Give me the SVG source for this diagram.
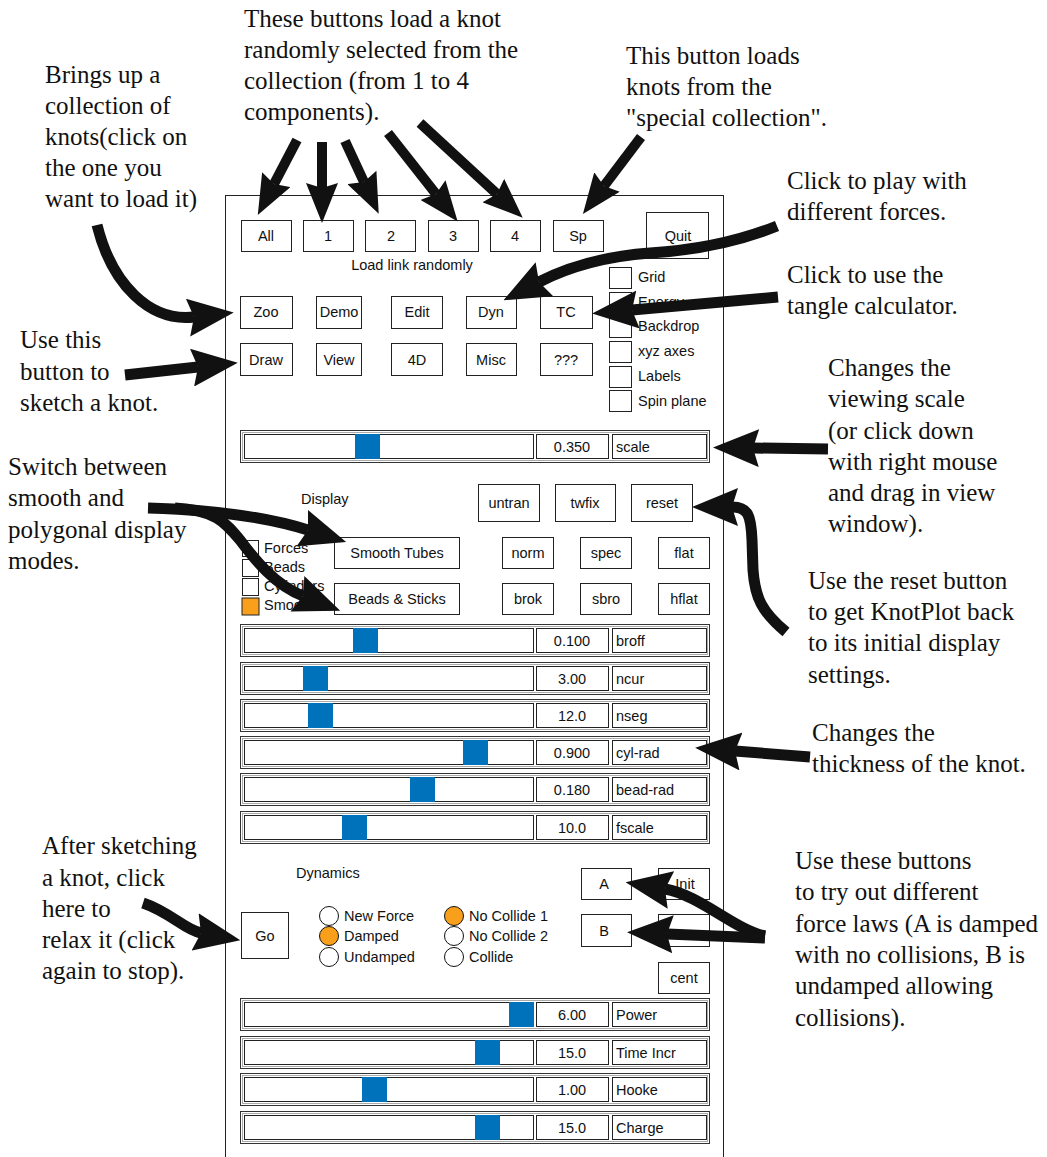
<svg xmlns="http://www.w3.org/2000/svg" width="1047" height="1157" viewBox="0 0 1047 1157">
<style>
.ann{font-family:"Liberation Serif","Times New Roman",serif;font-size:25px;fill:#111}
.ui{font-family:"Liberation Sans",Arial,sans-serif;font-size:14.5px;fill:#111}
.c{text-anchor:middle}
.btn{fill:#fff;stroke:#222;stroke-width:1}
.box{fill:#fff;stroke:#222;stroke-width:1}
.outer{fill:#fff;stroke:#333;stroke-width:1}
.inner{fill:none;stroke:#aaa;stroke-width:1}
.thumb{fill:#0072bc}
.on{fill:#f8a01c}
.arrow{fill:none;stroke:#111;stroke-width:11;marker-end:url(#ah)}
.arrows{fill:none;stroke:#111;stroke-width:10;marker-end:url(#ahs)}
</style>
<defs>
<marker id="ah" viewBox="0 0 46 38" refX="6" refY="19" markerWidth="46" markerHeight="38" markerUnits="userSpaceOnUse" orient="auto"><path d="M0,0 L46,19 L0,38 L6,19 Z" fill="#111"/></marker>
<marker id="ahs" viewBox="0 0 40 32" refX="5" refY="16" markerWidth="40" markerHeight="32" markerUnits="userSpaceOnUse" orient="auto"><path d="M0,0 L40,16 L0,32 L5,16 Z" fill="#111"/></marker>
</defs>
<rect width="1047" height="1157" fill="#fff"/>
<rect id="panel" x="225.5" y="195.5" width="498" height="1000" fill="#fff" stroke="#222" stroke-width="1"/>

<g id="btn-all"><rect class="btn" x="241.5" y="220.5" width="50" height="31"/><text class="ui c" x="266" y="241">All</text></g>
<g id="btn-1"><rect class="btn" x="303.5" y="220.5" width="50" height="31"/><text class="ui c" x="328" y="241">1</text></g>
<g id="btn-2"><rect class="btn" x="365.5" y="220.5" width="50" height="31"/><text class="ui c" x="391" y="241">2</text></g>
<g id="btn-3"><rect class="btn" x="428.5" y="220.5" width="50" height="31"/><text class="ui c" x="453" y="241">3</text></g>
<g id="btn-4"><rect class="btn" x="490.5" y="220.5" width="50" height="31"/><text class="ui c" x="515" y="241">4</text></g>
<g id="btn-sp"><rect class="btn" x="553.5" y="220.5" width="50" height="31"/><text class="ui c" x="578" y="241">Sp</text></g>
<g id="btn-quit"><rect class="btn" x="646.5" y="212.5" width="62" height="46"/><text class="ui c" x="678" y="241">Quit</text></g>
<g id="lbl-load"><text class="ui c" x="412" y="270">Load link randomly</text></g>

<g id="checks-right">
<rect class="box" x="609.5" y="267.5" width="22" height="21"/><text class="ui" x="638" y="282">Grid</text>
<rect class="box" x="609.5" y="292.5" width="22" height="21"/><text class="ui" x="638" y="307">Energy</text>
<rect class="box" x="609.5" y="316.5" width="22" height="21"/><text class="ui" x="638" y="331">Backdrop</text>
<rect class="box" x="609.5" y="341.5" width="22" height="21"/><text class="ui" x="638" y="356">xyz axes</text>
<rect class="box" x="609.5" y="366.5" width="22" height="21"/><text class="ui" x="638" y="381">Labels</text>
<rect class="box" x="609.5" y="390.5" width="22" height="21"/><text class="ui" x="638" y="406">Spin plane</text>
</g>

<g id="btn-zoo"><rect class="btn" x="240.5" y="296.5" width="52" height="32"/><text class="ui c" x="266" y="317">Zoo</text></g>
<g id="btn-demo"><rect class="btn" x="316.5" y="296.5" width="45" height="32"/><text class="ui c" x="339" y="317">Demo</text></g>
<g id="btn-edit"><rect class="btn" x="391.5" y="296.5" width="51" height="32"/><text class="ui c" x="417" y="317">Edit</text></g>
<g id="btn-dyn"><rect class="btn" x="466.5" y="296.5" width="50" height="32"/><text class="ui c" x="491" y="317">Dyn</text></g>
<g id="btn-tc"><rect class="btn" x="540.5" y="296.5" width="52" height="32"/><text class="ui c" x="566" y="317">TC</text></g>
<g id="btn-draw"><rect class="btn" x="240.5" y="343.5" width="52" height="32"/><text class="ui c" x="266" y="365">Draw</text></g>
<g id="btn-view"><rect class="btn" x="316.5" y="343.5" width="45" height="32"/><text class="ui c" x="339" y="365">View</text></g>
<g id="btn-4d"><rect class="btn" x="391.5" y="343.5" width="51" height="32"/><text class="ui c" x="417" y="365">4D</text></g>
<g id="btn-misc"><rect class="btn" x="466.5" y="343.5" width="50" height="32"/><text class="ui c" x="491" y="365">Misc</text></g>
<g id="btn-qqq"><rect class="btn" x="540.5" y="343.5" width="52" height="32"/><text class="ui c" x="566" y="365">???</text></g>

<g id="slider-scale"><rect class="outer" x="240.5" y="430.5" width="469" height="32"/><rect class="inner" x="242.5" y="432.5" width="465" height="28"/><rect class="box" x="244.5" y="434.5" width="289" height="24"/><rect class="box" x="536.5" y="434.5" width="72" height="24"/><rect class="box" x="612.5" y="434.5" width="94" height="24"/><rect class="thumb" x="355" y="434" width="25" height="25"/><text class="ui c" x="572" y="452">0.350</text><text class="ui" x="616" y="452">scale</text></g>

<g id="lbl-display"><text class="ui" x="301" y="504">Display</text></g>
<g id="btn-untran"><rect class="btn" x="478.5" y="484.5" width="61" height="37"/><text class="ui c" x="509" y="508">untran</text></g>
<g id="btn-twfix"><rect class="btn" x="555.5" y="484.5" width="60" height="37"/><text class="ui c" x="585" y="508">twfix</text></g>
<g id="btn-reset"><rect class="btn" x="631.5" y="484.5" width="61" height="37"/><text class="ui c" x="662" y="508">reset</text></g>
<g id="btn-smooth"><rect class="btn" x="334.5" y="537.5" width="125" height="31"/><text class="ui c" x="397" y="558">Smooth Tubes</text></g>
<g id="btn-norm"><rect class="btn" x="502.5" y="537.5" width="51" height="31"/><text class="ui c" x="528" y="558">norm</text></g>
<g id="btn-spec"><rect class="btn" x="580.5" y="537.5" width="51" height="31"/><text class="ui c" x="606" y="558">spec</text></g>
<g id="btn-flat"><rect class="btn" x="658.5" y="537.5" width="51" height="31"/><text class="ui c" x="684" y="558">flat</text></g>
<g id="btn-beads"><rect class="btn" x="334.5" y="583.5" width="125" height="31"/><text class="ui c" x="397" y="604">Beads &amp; Sticks</text></g>
<g id="btn-brok"><rect class="btn" x="502.5" y="583.5" width="51" height="31"/><text class="ui c" x="528" y="604">brok</text></g>
<g id="btn-sbro"><rect class="btn" x="580.5" y="583.5" width="51" height="31"/><text class="ui c" x="606" y="604">sbro</text></g>
<g id="btn-hflat"><rect class="btn" x="658.5" y="583.5" width="51" height="31"/><text class="ui c" x="684" y="604">hflat</text></g>

<g id="checks-left">
<rect class="box" x="242.5" y="540.5" width="16" height="16"/><text class="ui" x="264" y="553">Forces</text>
<rect class="box" x="242.5" y="559.5" width="16" height="17"/><text class="ui" x="264" y="572">Beads</text>
<rect class="box" x="242.5" y="578.5" width="16" height="17"/><text class="ui" x="264" y="591">Cylinders</text>
<rect class="on" x="242" y="598" width="17" height="17" stroke="#222" stroke-width="1"/><text class="ui" x="264" y="610">Smooth</text>
</g>

<g id="slider-broff"><rect class="outer" x="240.5" y="624.5" width="469" height="32"/><rect class="inner" x="242.5" y="626.5" width="465" height="28"/><rect class="box" x="244.5" y="628.5" width="289" height="24"/><rect class="box" x="536.5" y="628.5" width="72" height="24"/><rect class="box" x="612.5" y="628.5" width="94" height="24"/><rect class="thumb" x="353" y="628" width="25" height="25"/><text class="ui c" x="572" y="646">0.100</text><text class="ui" x="616" y="646">broff</text></g>
<g id="slider-ncur"><rect class="outer" x="240.5" y="662.5" width="469" height="32"/><rect class="inner" x="242.5" y="664.5" width="465" height="28"/><rect class="box" x="244.5" y="666.5" width="289" height="24"/><rect class="box" x="536.5" y="666.5" width="72" height="24"/><rect class="box" x="612.5" y="666.5" width="94" height="24"/><rect class="thumb" x="303" y="666" width="25" height="25"/><text class="ui c" x="572" y="684">3.00</text><text class="ui" x="616" y="684">ncur</text></g>
<g id="slider-nseg"><rect class="outer" x="240.5" y="699.5" width="469" height="32"/><rect class="inner" x="242.5" y="701.5" width="465" height="28"/><rect class="box" x="244.5" y="703.5" width="289" height="24"/><rect class="box" x="536.5" y="703.5" width="72" height="24"/><rect class="box" x="612.5" y="703.5" width="94" height="24"/><rect class="thumb" x="308" y="703" width="25" height="25"/><text class="ui c" x="572" y="721">12.0</text><text class="ui" x="616" y="721">nseg</text></g>
<g id="slider-cylrad"><rect class="outer" x="240.5" y="736.5" width="469" height="32"/><rect class="inner" x="242.5" y="738.5" width="465" height="28"/><rect class="box" x="244.5" y="740.5" width="289" height="24"/><rect class="box" x="536.5" y="740.5" width="72" height="24"/><rect class="box" x="612.5" y="740.5" width="94" height="24"/><rect class="thumb" x="463" y="740" width="25" height="25"/><text class="ui c" x="572" y="758">0.900</text><text class="ui" x="616" y="758">cyl-rad</text></g>
<g id="slider-beadrad"><rect class="outer" x="240.5" y="773.5" width="469" height="32"/><rect class="inner" x="242.5" y="775.5" width="465" height="28"/><rect class="box" x="244.5" y="777.5" width="289" height="24"/><rect class="box" x="536.5" y="777.5" width="72" height="24"/><rect class="box" x="612.5" y="777.5" width="94" height="24"/><rect class="thumb" x="410" y="777" width="25" height="25"/><text class="ui c" x="572" y="795">0.180</text><text class="ui" x="616" y="795">bead-rad</text></g>
<g id="slider-fscale"><rect class="outer" x="240.5" y="811.5" width="469" height="32"/><rect class="inner" x="242.5" y="813.5" width="465" height="28"/><rect class="box" x="244.5" y="815.5" width="289" height="24"/><rect class="box" x="536.5" y="815.5" width="72" height="24"/><rect class="box" x="612.5" y="815.5" width="94" height="24"/><rect class="thumb" x="342" y="815" width="25" height="25"/><text class="ui c" x="572" y="833">10.0</text><text class="ui" x="616" y="833">fscale</text></g>

<g id="lbl-dynamics"><text class="ui" x="296" y="878">Dynamics</text></g>
<g id="btn-go"><rect class="btn" x="241.5" y="912.5" width="47" height="46"/><text class="ui c" x="265" y="941">Go</text></g>
<g id="radios">
<circle cx="329" cy="916" r="9.5" fill="#fff" stroke="#111"/><text class="ui" x="344" y="921">New Force</text>
<circle cx="329" cy="936" r="9.5" class="on" stroke="#111"/><text class="ui" x="344" y="941">Damped</text>
<circle cx="329" cy="957" r="9.5" fill="#fff" stroke="#111"/><text class="ui" x="344" y="962">Undamped</text>
<circle cx="454" cy="916" r="9.5" class="on" stroke="#111"/><text class="ui" x="469" y="921">No Collide 1</text>
<circle cx="454" cy="936" r="9.5" fill="#fff" stroke="#111"/><text class="ui" x="469" y="941">No Collide 2</text>
<circle cx="454" cy="957" r="9.5" fill="#fff" stroke="#111"/><text class="ui" x="469" y="962">Collide</text>
</g>
<g id="btn-a"><rect class="btn" x="581.5" y="868.5" width="50" height="31"/><text class="ui c" x="604" y="889">A</text></g>
<g id="btn-init"><rect class="btn" x="658.5" y="868.5" width="51" height="31"/><text class="ui c" x="685" y="889">Init</text></g>
<g id="btn-b"><rect class="btn" x="581.5" y="914.5" width="50" height="32"/><text class="ui c" x="604" y="936">B</text></g>
<g id="btn-hidden"><rect class="btn" x="658.5" y="914.5" width="51" height="32"/></g>
<g id="btn-cent"><rect class="btn" x="658.5" y="962.5" width="51" height="31"/><text class="ui c" x="684" y="983">cent</text></g>

<g id="slider-power"><rect class="outer" x="240.5" y="998.5" width="469" height="32"/><rect class="inner" x="242.5" y="1000.5" width="465" height="28"/><rect class="box" x="244.5" y="1002.5" width="289" height="24"/><rect class="box" x="536.5" y="1002.5" width="72" height="24"/><rect class="box" x="612.5" y="1002.5" width="94" height="24"/><rect class="thumb" x="509" y="1002" width="25" height="25"/><text class="ui c" x="572" y="1020">6.00</text><text class="ui" x="616" y="1020">Power</text></g>
<g id="slider-timeincr"><rect class="outer" x="240.5" y="1036.5" width="469" height="32"/><rect class="inner" x="242.5" y="1038.5" width="465" height="28"/><rect class="box" x="244.5" y="1040.5" width="289" height="24"/><rect class="box" x="536.5" y="1040.5" width="72" height="24"/><rect class="box" x="612.5" y="1040.5" width="94" height="24"/><rect class="thumb" x="475" y="1040" width="25" height="25"/><text class="ui c" x="572" y="1058">15.0</text><text class="ui" x="616" y="1058">Time Incr</text></g>
<g id="slider-hooke"><rect class="outer" x="240.5" y="1073.5" width="469" height="32"/><rect class="inner" x="242.5" y="1075.5" width="465" height="28"/><rect class="box" x="244.5" y="1077.5" width="289" height="24"/><rect class="box" x="536.5" y="1077.5" width="72" height="24"/><rect class="box" x="612.5" y="1077.5" width="94" height="24"/><rect class="thumb" x="362" y="1077" width="25" height="25"/><text class="ui c" x="572" y="1095">1.00</text><text class="ui" x="616" y="1095">Hooke</text></g>
<g id="slider-charge"><rect class="outer" x="240.5" y="1111.5" width="469" height="32"/><rect class="inner" x="242.5" y="1113.5" width="465" height="28"/><rect class="box" x="244.5" y="1115.5" width="289" height="24"/><rect class="box" x="536.5" y="1115.5" width="72" height="24"/><rect class="box" x="612.5" y="1115.5" width="94" height="24"/><rect class="thumb" x="475" y="1115" width="25" height="25"/><text class="ui c" x="572" y="1133">15.0</text><text class="ui" x="616" y="1133">Charge</text></g>

<g id="note-random"><text class="ann"><tspan x="244" y="27">These buttons load a knot</tspan><tspan x="244" y="58">randomly selected from the</tspan><tspan x="244" y="89">collection (from 1 to 4</tspan><tspan x="244" y="120">components).</tspan></text></g>
<g id="note-zoo"><text class="ann"><tspan x="45" y="83">Brings up a</tspan><tspan x="45" y="114">collection of</tspan><tspan x="45" y="145">knots(click on</tspan><tspan x="45" y="176">the one you</tspan><tspan x="45" y="207">want to load it)</tspan></text></g>
<g id="note-sp"><text class="ann"><tspan x="626" y="64">This button loads</tspan><tspan x="626" y="95">knots from the</tspan><tspan x="626" y="126">"special collection".</tspan></text></g>
<g id="note-dyn"><text class="ann"><tspan x="787" y="189">Click to play with</tspan><tspan x="787" y="220">different forces.</tspan></text></g>
<g id="note-tc"><text class="ann"><tspan x="787" y="283">Click to use the</tspan><tspan x="787" y="314">tangle calculator.</tspan></text></g>
<g id="note-draw"><text class="ann"><tspan x="20" y="348">Use this</tspan><tspan x="20" y="380">button to</tspan><tspan x="20" y="411">sketch a knot.</tspan></text></g>
<g id="note-scale"><text class="ann"><tspan x="828" y="376">Changes the</tspan><tspan x="828" y="407">viewing scale</tspan><tspan x="828" y="439">(or click down</tspan><tspan x="828" y="470">with right mouse</tspan><tspan x="828" y="501">and drag in view</tspan><tspan x="828" y="532">window).</tspan></text></g>
<g id="note-display"><text class="ann"><tspan x="8" y="475">Switch between</tspan><tspan x="8" y="506">smooth and</tspan><tspan x="8" y="538">polygonal display</tspan><tspan x="8" y="569">modes.</tspan></text></g>
<g id="note-reset"><text class="ann"><tspan x="808" y="589">Use the reset button</tspan><tspan x="808" y="620">to get KnotPlot back</tspan><tspan x="808" y="651">to its initial display</tspan><tspan x="808" y="683">settings.</tspan></text></g>
<g id="note-cyl"><text class="ann"><tspan x="812" y="741">Changes the</tspan><tspan x="812" y="772">thickness of the knot.</tspan></text></g>
<g id="note-go"><text class="ann"><tspan x="42" y="854">After sketching</tspan><tspan x="42" y="886">a knot, click</tspan><tspan x="42" y="917">here to</tspan><tspan x="42" y="948">relax it (click</tspan><tspan x="42" y="979">again to stop).</tspan></text></g>
<g id="note-ab"><text class="ann"><tspan x="795" y="869">Use these buttons</tspan><tspan x="795" y="900">to try out different</tspan><tspan x="795" y="932">force laws (A is damped</tspan><tspan x="795" y="963">with no collisions, B is</tspan><tspan x="795" y="994">undamped allowing</tspan><tspan x="795" y="1026">collisions).</tspan></text></g>

<g id="connectors">
<path class="arrows" d="M297,140 L274,184"/>
<path class="arrows" d="M322,142 L322,188"/>
<path class="arrows" d="M345,141 L364,182"/>
<path class="arrows" d="M388,133 L436,194"/>
<path class="arrows" d="M420,123 L497,194"/>
<path class="arrows" d="M641,137 L604,186"/>
<path class="arrow" d="M97,225 C112,285 150,322 194,317"/>
<path class="arrow" d="M777,226 C740,241 700,250 650,253 C610,256 570,266 539,282"/>
<path class="arrow" d="M778,297 L632,310"/>
<path class="arrow" d="M125,375 L198,367"/>
<path class="arrow" d="M828,449 L753,448"/>
<path class="arrow" d="M786,632 C762,612 755,598 753,570 L752,540 C751,515 748,507 732,507"/>
<path class="arrow" d="M148,508 C220,510 270,518 308,530"/>
<path class="arrow" d="M175,508 C215,510 225,522 240,540 C255,560 275,585 303,596"/>
<path class="arrow" d="M810,757 L735,751"/>
<path class="arrow" d="M143,903 C170,912 185,930 201,933"/>
<path class="arrow" d="M765,936 C735,930 700,895 665,889"/>
<path class="arrow" d="M765,938 L667,934"/>
</g>
</svg>
